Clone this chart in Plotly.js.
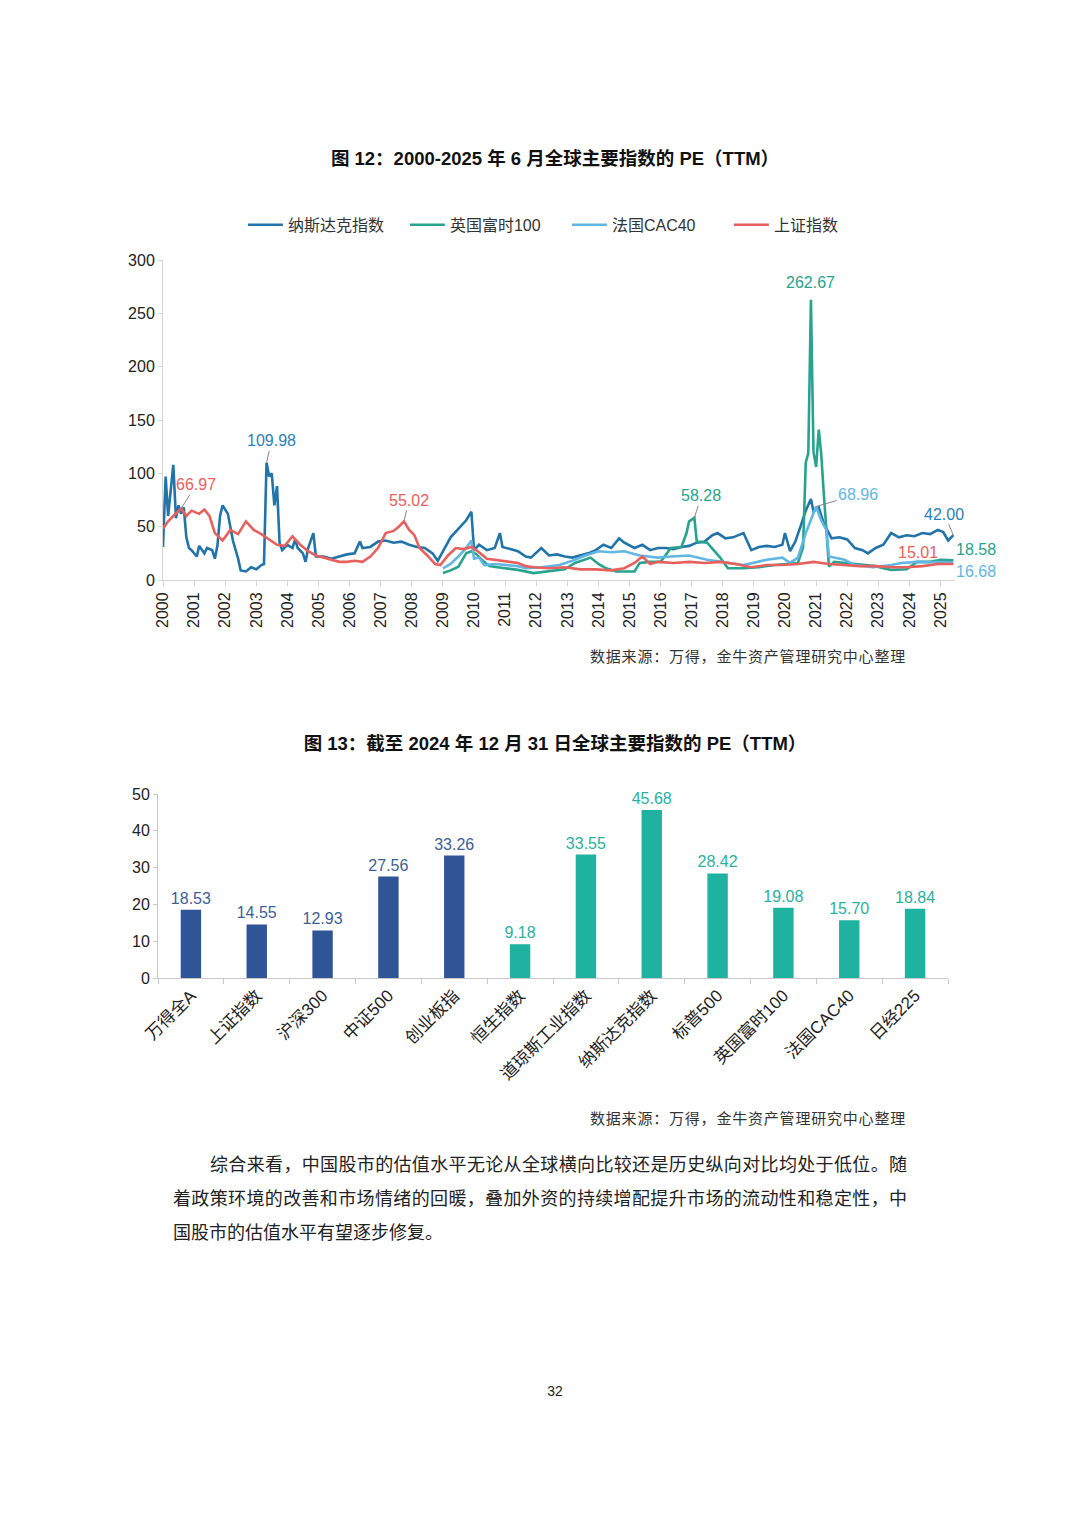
<!DOCTYPE html>
<html>
<head>
<meta charset="utf-8">
<script src="https://cdn.plot.ly/plotly-3.0.1.min.js"></script>
<style>
  body { margin: 0; background: #fff; width: 1080px; height: 1516px; position: relative; overflow: hidden;
         font-family: "Liberation Sans", "Noto Sans CJK SC", sans-serif; color: #222; }
  .title { position: absolute; left: 0; width: 1110px; text-align: center; font-weight: bold; font-size: 18.5px; color: #111; }
  .source { position: absolute; right: 174px; font-size: 15px; letter-spacing: 0.8px; color: #333; font-family: "Noto Sans CJK SC", sans-serif; }
  .para { position: absolute; left: 173px; width: 734px; font-size: 18px; color: #222; font-family: "Noto Sans CJK SC", sans-serif; }
  .para div { height: 34px; line-height: 34px; text-align: justify; text-align-last: justify; }
  .pageno { position: absolute; left: 0; width: 1110px; text-align: center; top: 1383px; font-size: 14px; color: #222; }
  #pe { position: absolute; left: 0; top: 180px; width: 1080px; height: 480px; }
  #bars { position: absolute; left: 0; top: 770px; width: 1080px; height: 340px; }
</style>
</head>
<body>

<div class="title" style="top:144px">图 12：2000-2025 年 6 月全球主要指数的 PE（TTM）</div>
<div id="pe"></div>
<div class="source" style="top:645px">数据来源：万得，金牛资产管理研究中心整理</div>

<div class="title" style="top:729px">图 13：截至 2024 年 12 月 31 日全球主要指数的 PE（TTM）</div>
<div id="bars"></div>
<div class="source" style="top:1107px">数据来源：万得，金牛资产管理研究中心整理</div>

<div class="para" style="top:1146px">
  <div style="padding-left:37px">综合来看，中国股市的估值水平无论从全球横向比较还是历史纵向对比均处于低位。随</div>
  <div>着政策环境的改善和市场情绪的回暖，叠加外资的持续增配提升市场的流动性和稳定性，中</div>
  <div style="text-align-last:left">国股市的估值水平有望逐步修复。</div>
</div>

<div class="pageno">32</div>

<script>
// ---- figure 12: PE (TTM), 2000 - 2025.06 ----
var nasdaqDates = ['2000-01','2000-02','2000-03','2000-04','2000-05','2000-06','2000-07','2000-08','2000-09','2000-10','2000-11','2000-12',
  '2001-02','2001-03','2001-05','2001-06','2001-08','2001-09','2001-10','2001-11','2001-12',
  '2002-02','2002-04','2002-06','2002-07','2002-09','2002-11',
  '2003-01','2003-03','2003-04','2003-05','2003-06','2003-07','2003-08','2003-09','2003-10','2003-11',
  '2004-01','2004-03','2004-04','2004-05','2004-07','2004-08','2004-09','2004-11','2004-12',
  '2005-03','2005-06','2005-09','2005-12','2006-03','2006-05','2006-06','2006-09','2006-12',
  '2007-03','2007-06','2007-09','2007-12','2008-03','2008-06','2008-09','2008-11',
  '2009-01','2009-04','2009-07','2009-10','2009-12','2010-01','2010-03','2010-06','2010-09','2010-11','2010-12',
  '2011-03','2011-06','2011-09','2011-11','2012-03','2012-06','2012-09','2012-12',
  '2013-03','2013-06','2013-09','2013-12','2014-03','2014-06','2014-09','2014-11',
  '2015-03','2015-06','2015-09','2015-12','2016-03','2016-06','2016-09','2016-12',
  '2017-03','2017-06','2017-09','2017-11','2018-02','2018-05','2018-09','2018-12',
  '2019-03','2019-06','2019-09','2019-12','2020-01','2020-03','2020-05','2020-07','2020-09','2020-11','2020-12',
  '2021-02','2021-04','2021-07','2021-10','2022-01','2022-04','2022-07','2022-09','2022-12',
  '2023-03','2023-06','2023-09','2023-12','2024-03','2024-06','2024-09','2024-12','2025-02','2025-04','2025-06'];
var nasdaqPE = [31,97,60,85,108,58,70,62,68,40,30,28,
  22,32,25,30,28,20,32,60,70,
  62,37,20,9,8,12,
  10,14,15,109.98,97,100,70,88,35,28,
  33,30,38,30,25,17,30,44,22,
  22,20,22,24,25,36,30,31,36,
  37,35,36,33,31,30,25,18,
  27,40,48,56,64,28,33,28,30,44,31,
  29,27,22,21,30,23,24,22,
  21,23,25,28,33,30,39,35,
  30,33,28,30,30,29,31,32,
  35,36,42,44,39,40,44,28,
  31,32,31,33,44,27,36,50,65,76,64,
  68,53,39,40,38,30,28,25,30,
  33,44,40,42,41,44,43,47,45,37,42.00];

var ftseDates = ['2009-01','2009-04','2009-07','2009-10','2009-12','2010-02','2010-04','2010-07','2010-10','2011-01','2011-06','2011-12',
  '2012-06','2012-12','2013-04','2013-10','2014-01','2014-04','2014-08','2015-03','2015-05','2015-09',
  '2016-01','2016-05','2016-09','2016-11','2016-12','2017-02','2017-03','2017-07','2017-12','2018-03','2018-09',
  '2019-03','2019-09','2020-03','2020-06','2020-08','2020-09','2020-10','2020-11','2020-12','2021-01','2021-02','2021-03','2021-04','2021-05','2021-06',
  '2021-08','2021-12','2022-06','2022-12','2023-03','2023-06','2023-12','2024-04','2024-09','2025-01','2025-06'];
var ftsePE = [6.5,9,12.5,25,27,24,19,13,12,11,9.5,6.5,
  8,10,16,21,15,11,8,8,16,17,
  17,30,31,44,55,58.28,36,35,21,11,11,
  12,14,15,16,31,110,119,262.67,120,106,141,119,81,44,12.5,
  17,16,14,13,11,9.5,10,17,17,19,18.58];

var cacDates = ['2009-01','2009-04','2009-07','2009-10','2009-12','2010-01','2010-03','2010-05','2010-09','2011-01','2011-06','2011-09',
  '2012-03','2012-10','2013-03','2013-08','2014-01','2014-06','2014-11','2015-05','2015-12','2016-05','2016-12',
  '2017-07','2018-01','2018-09','2019-06','2019-12','2020-03','2020-06','2020-09','2020-11','2021-01','2021-03','2021-05','2021-06',
  '2021-12','2022-04','2022-11','2023-06','2023-10','2024-04','2024-12','2025-06'];
var cacPE = [11,15,22,30,37,20,21,14,15,14,13,11,
  12,14,18,23,27,26,27,23,21,22,23,
  19,17,14,19,21,16,21,44,56,68.96,56,47,22,
  19,14,12,14,16,17,17,16.68];

var shDates = ['2000-01','2000-03','2000-05','2000-08','2000-10','2000-12','2001-03','2001-05','2001-07','2001-09','2001-12',
  '2002-03','2002-06','2002-09','2002-12','2003-03','2003-06','2003-09','2003-12','2004-03','2004-06','2004-09','2004-12',
  '2005-03','2005-06','2005-09','2005-12','2006-03','2006-06','2006-09','2006-12','2007-03','2007-06','2007-08','2007-10','2007-12',
  '2008-02','2008-04','2008-07','2008-10','2008-12','2009-03','2009-06','2009-09','2009-12','2010-03','2010-06','2010-09','2010-12',
  '2011-03','2011-06','2011-09','2011-12','2012-06','2012-12','2013-06','2013-12','2014-06','2014-11','2015-03','2015-06','2015-09','2015-12',
  '2016-06','2016-12','2017-06','2017-12','2018-06','2018-12','2019-06','2019-12','2020-06','2020-12','2021-06','2021-12',
  '2022-06','2022-12','2023-06','2023-12','2024-06','2024-12','2025-06'];
var shPE = [48,55,60,66.97,60,65,62,66,60,44,37,
  47,43,55,47,43,38,33,32,41,33,27,23,
  21,19,17,17,18,17,22,30,44,46,50,55.02,47,
  42,30,23,15,14,23,30,29,31,26,20,19,18,
  17,16,13,12,11,12,10,10,9,11,16,22,15,17,
  16,17,16,17,15,12,14,14,15,17,15,14,
  13,13,12,12,13,15,15.01];

// ---- figure 13: PE (TTM) at 2024-12-31 ----
var indexNames = ['万得全A','上证指数','沪深300','中证500','创业板指','恒生指数','道琼斯工业指数','纳斯达克指数','标普500','英国富时100','法国CAC40','日经225'];
var indexPE = [18.53,14.55,12.93,27.56,33.26,9.18,33.55,45.68,28.42,19.08,15.70,18.84];
var indexGroup = ['境内','境内','境内','境内','境内','境外','境外','境外','境外','境外','境外','境外'];

var C_NDX = '#2274a8', C_FTSE = '#27a38e', C_CAC = '#62b6e2', C_SH = '#e8605d';
var numFont = 'Liberation Sans, Noto Sans CJK SC, sans-serif';

function peakIdx(dates, vals, from, to) {
  var best = -1;
  for (var i = 0; i < dates.length; i++) {
    if (dates[i] >= from && dates[i] <= to && (best < 0 || vals[i] > vals[best])) best = i;
  }
  return best;
}
function label(dates, vals, i, color, ax, ay, line) {
  return {
    x: dates[i], y: vals[i], xref: 'x', yref: 'y',
    text: vals[i].toFixed(2), showarrow: true, arrowhead: 0, arrowwidth: 1,
    arrowcolor: line ? '#888' : 'rgba(0,0,0,0)', standoff: 0,
    ax: ax, ay: ay, font: {family: numFont, size: 16, color: color}
  };
}

var last = function (a) { return a.length - 1; };

var lineData = [
  {x: nasdaqDates, y: nasdaqPE, name: '纳斯达克指数', mode: 'lines', line: {color: C_NDX, width: 2.6}},
  {x: ftseDates, y: ftsePE, name: '英国富时100', mode: 'lines', line: {color: C_FTSE, width: 2.6}},
  {x: cacDates, y: cacPE, name: '法国CAC40', mode: 'lines', line: {color: C_CAC, width: 2.6}},
  {x: shDates, y: shPE, name: '上证指数', mode: 'lines', line: {color: C_SH, width: 2.6}}
];

var lineNotes = [
  label(nasdaqDates, nasdaqPE, peakIdx(nasdaqDates, nasdaqPE, '2003', '2004'), '#2b80b9', 5, -22, true),
  label(shDates, shPE, peakIdx(shDates, shPE, '2000', '2000-12'), C_SH, 15, -24, true),
  label(shDates, shPE, peakIdx(shDates, shPE, '2007', '2008'), C_SH, 5, -21, true),
  label(ftseDates, ftsePE, peakIdx(ftseDates, ftsePE, '2016', '2018'), C_FTSE, 7, -22, true),
  label(ftseDates, ftsePE, peakIdx(ftseDates, ftsePE, '2020', '2022'), C_FTSE, 0, -17, false),
  label(cacDates, cacPE, peakIdx(cacDates, cacPE, '2020', '2022'), C_CAC, 42, -12, true),
  label(nasdaqDates, nasdaqPE, last(nasdaqPE), '#2b80b9', -9, -21, true),
  label(shDates, shPE, last(shPE), C_SH, -35, -11, false),
  label(ftseDates, ftsePE, last(ftsePE), C_FTSE, 23, -11, false),
  label(cacDates, cacPE, last(cacPE), C_CAC, 23, 9, false)
];

var lineLayout = {
  width: 1080, height: 480,
  margin: {l: 163, r: 125, t: 80, b: 80},
  paper_bgcolor: '#fff', plot_bgcolor: '#fff',
  font: {family: numFont, size: 16, color: '#222'},
  showlegend: true,
  legend: {orientation: 'h', x: 0.51, xanchor: 'center', y: 1.11, yanchor: 'middle',
           font: {size: 16, color: '#333'}, itemwidth: 35, entrywidth: 112, tracegroupgap: 0},
  xaxis: {type: 'date', range: ['2000-01-01', '2025-06-20'], tick0: '2000-01-01', dtick: 'M12', tickformat: '%Y',
          tickangle: -90, showgrid: false, zeroline: false, showline: true, linecolor: '#d4d4d4', linewidth: 1,
          ticks: 'outside', ticklen: 5, tickcolor: '#d4d4d4', tickfont: {size: 16, color: '#222'}},
  yaxis: {range: [0, 300], dtick: 50, showgrid: false, zeroline: false, showline: true, linecolor: '#d4d4d4',
          ticks: 'outside', ticklen: 4, tickcolor: '#d4d4d4', tickfont: {size: 16, color: '#222'}},
  annotations: lineNotes
};

Plotly.newPlot('pe', lineData, lineLayout, {displayModeBar: false, staticPlot: true});

// bar chart
var groupColor = {'境内': '#2f5597', '境外': '#20b2a0'};
var labelColor = {'境内': '#3d5f94', '境外': '#2bb0a0'};
var barColors = [], textColors = [];
for (var i = 0; i < indexGroup.length; i++) {
  barColors.push(groupColor[indexGroup[i]]);
  textColors.push(labelColor[indexGroup[i]]);
}

var barData = [{
  type: 'bar', x: indexNames, y: indexPE,
  marker: {color: barColors},
  text: indexPE.map(function (v) { return v.toFixed(2); }),
  textposition: 'outside', cliponaxis: false, constraintext: 'none',
  textfont: {family: numFont, size: 16, color: textColors},
  hoverinfo: 'none'
}];

var barLayout = {
  width: 1080, height: 340,
  margin: {l: 158, r: 132, t: 24, b: 132},
  paper_bgcolor: '#fff', plot_bgcolor: '#fff',
  font: {family: numFont, size: 16, color: '#222'},
  showlegend: false, bargap: 0.69,
  uniformtext: {minsize: 16, mode: 'show'},
  xaxis: {type: 'category', tickangle: -45, showgrid: false, showline: true, linecolor: '#c8c8c8',
          ticks: 'outside', ticklen: 5, tickcolor: '#c8c8c8', tickson: 'boundaries',
          tickfont: {size: 17, color: '#222'}},
  yaxis: {range: [0, 50], dtick: 10, showgrid: false, zeroline: false, showline: true, linecolor: '#c8c8c8',
          ticks: 'outside', ticklen: 4, tickcolor: '#c8c8c8', tickfont: {size: 16, color: '#222'}}
};

Plotly.newPlot('bars', barData, barLayout, {displayModeBar: false, staticPlot: true});
</script>
</body>
</html>
